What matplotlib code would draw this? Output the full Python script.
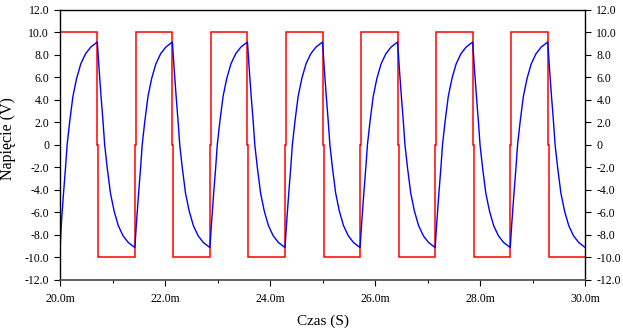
import matplotlib
matplotlib.use("Agg")
import matplotlib.pyplot as plt
from matplotlib.ticker import FixedLocator

# ---- data (time in ms, voltage in V) ----
red_t = [20.0,
         20.705, 20.705, 20.724, 20.724,
         21.42, 21.42, 21.439, 21.439,
         22.135, 22.135, 22.154, 22.154,
         22.85, 22.85, 22.869, 22.869,
         23.565, 23.565, 23.584, 23.584,
         24.28, 24.28, 24.299, 24.299,
         24.995, 24.995, 25.014, 25.014,
         25.71, 25.71, 25.729, 25.729,
         26.425, 26.425, 26.444, 26.444,
         27.14, 27.14, 27.159, 27.159,
         27.855, 27.855, 27.874, 27.874,
         28.57, 28.57, 28.589, 28.589,
         29.285, 29.285, 29.304, 29.304,
         30.0]
red_v = [10,
         10, 0, 0, -10,
         -10, 0, 0, 10,
         10, 0, 0, -10,
         -10, 0, 0, 10,
         10, 0, 0, -10,
         -10, 0, 0, 10,
         10, 0, 0, -10,
         -10, 0, 0, 10,
         10, 0, 0, -10,
         -10, 0, 0, 10,
         10, 0, 0, -10,
         -10, 0, 0, 10,
         10, 0, 0, -10,
         -10]

blue_t = [20.0, 20.02, 20.06, 20.10, 20.13, 20.18, 20.24, 20.31, 20.39, 20.48, 20.58,
          20.705, 20.735, 20.775, 20.815, 20.845, 20.895, 20.955, 21.025, 21.105, 21.195, 21.295,
          21.42, 21.45, 21.49, 21.53, 21.56, 21.61, 21.67, 21.74, 21.82, 21.91, 22.01,
          22.135, 22.165, 22.205, 22.245, 22.275, 22.325, 22.385, 22.455, 22.535, 22.625, 22.725,
          22.85, 22.88, 22.92, 22.96, 22.99, 23.04, 23.10, 23.17, 23.25, 23.34, 23.44,
          23.565, 23.595, 23.635, 23.675, 23.705, 23.755, 23.815, 23.885, 23.965, 24.055, 24.155,
          24.28, 24.31, 24.35, 24.39, 24.42, 24.47, 24.53, 24.60, 24.68, 24.77, 24.87,
          24.995, 25.025, 25.065, 25.105, 25.135, 25.185, 25.245, 25.315, 25.395, 25.485, 25.585,
          25.71, 25.74, 25.78, 25.82, 25.85, 25.90, 25.96, 26.03, 26.11, 26.20, 26.30,
          26.425, 26.455, 26.495, 26.535, 26.565, 26.615, 26.675, 26.745, 26.825, 26.915, 27.015,
          27.14, 27.17, 27.21, 27.25, 27.28, 27.33, 27.39, 27.46, 27.54, 27.63, 27.73,
          27.855, 27.885, 27.925, 27.965, 27.995, 28.045, 28.105, 28.175, 28.255, 28.345, 28.445,
          28.57, 28.60, 28.64, 28.68, 28.71, 28.76, 28.82, 28.89, 28.97, 29.06, 29.16,
          29.285, 29.315, 29.355, 29.395, 29.425, 29.475, 29.535, 29.605, 29.685, 29.775, 29.875,
          30.0]
blue_v = [-8.9, -7.0, -4.4, -2.0, 0.0, 2.1, 4.3, 5.9, 7.2, 8.1, 8.7,
          9.15, 7.0, 4.4, 2.0, 0.0, -2.1, -4.3, -5.9, -7.2, -8.1, -8.7,
          -9.15, -7.0, -4.4, -2.0, 0.0, 2.1, 4.3, 5.9, 7.2, 8.1, 8.7,
          9.15, 7.0, 4.4, 2.0, 0.0, -2.1, -4.3, -5.9, -7.2, -8.1, -8.7,
          -9.15, -7.0, -4.4, -2.0, 0.0, 2.1, 4.3, 5.9, 7.2, 8.1, 8.7,
          9.15, 7.0, 4.4, 2.0, 0.0, -2.1, -4.3, -5.9, -7.2, -8.1, -8.7,
          -9.15, -7.0, -4.4, -2.0, 0.0, 2.1, 4.3, 5.9, 7.2, 8.1, 8.7,
          9.15, 7.0, 4.4, 2.0, 0.0, -2.1, -4.3, -5.9, -7.2, -8.1, -8.7,
          -9.15, -7.0, -4.4, -2.0, 0.0, 2.1, 4.3, 5.9, 7.2, 8.1, 8.7,
          9.15, 7.0, 4.4, 2.0, 0.0, -2.1, -4.3, -5.9, -7.2, -8.1, -8.7,
          -9.15, -7.0, -4.4, -2.0, 0.0, 2.1, 4.3, 5.9, 7.2, 8.1, 8.7,
          9.15, 7.0, 4.4, 2.0, 0.0, -2.1, -4.3, -5.9, -7.2, -8.1, -8.7,
          -9.15, -7.0, -4.4, -2.0, 0.0, 2.1, 4.3, 5.9, 7.2, 8.1, 8.7,
          9.15, 7.0, 4.4, 2.0, 0.0, -2.1, -4.3, -5.9, -7.2, -8.1, -8.7,
          -9.15]

x_ticks = [20, 22, 24, 26, 28, 30]
x_tick_labels = ["20.0m", "22.0m", "24.0m", "26.0m", "28.0m", "30.0m"]
x_minor = [21, 23, 25, 27, 29]
y_ticks = [12, 10, 8, 6, 4, 2, 0, -2, -4, -6, -8, -10, -12]
y_tick_labels = ["12.0", "10.0", "8.0", "6.0", "4.0", "2.0", "0",
                 "-2.0", "-4.0", "-6.0", "-8.0", "-10.0", "-12.0"]
x_label = "Czas (S)"
y_label = "Napięcie (V)"

plt.rcParams['font.family'] = ['Liberation Serif', 'DejaVu Serif']

W, H = 623, 330
fig = plt.figure(figsize=(W / 100, H / 100), dpi=100)
L, R, T, B = 60.3, 585.3, 10.0, 279.6
ax = fig.add_axes([L / W, 1 - B / H, (R - L) / W, (B - T) / H])

ax.plot(red_t, red_v, color="#ff0000", lw=1.1, solid_joinstyle="miter")
ax.plot(blue_t, blue_v, color="#0000ff", lw=1.0)

ax.set_xlim(20, 30)
ax.set_ylim(-12, 12)

ax.set_xticks(x_ticks)
ax.set_xticklabels(x_tick_labels)
ax.xaxis.set_minor_locator(FixedLocator(x_minor))
ax.set_yticks(y_ticks)
ax.set_yticklabels(y_tick_labels)

ax.tick_params(axis="y", which="major", direction="out", length=4, width=0.8,
               left=True, right=True, labelleft=True, labelright=True,
               labelsize=8.5, pad=4, colors="black")
ax.tick_params(axis="x", which="major", direction="out", length=4, width=0.8,
               top=False, bottom=True, labelsize=8.5, pad=6)
ax.tick_params(axis="x", which="minor", direction="out", length=2, width=0.8,
               top=False, bottom=True)

for s in ["left", "right", "top"]:
    ax.spines[s].set_color("black")
    ax.spines[s].set_linewidth(1.0)
ax.spines["bottom"].set_color("#555555")
ax.spines["bottom"].set_linewidth(1.3)

fig.text(322.8 / W, 1 - 321.7 / H, x_label, ha="center", va="center", fontsize=11)
fig.text(8.0 / W, 1 - 139.0 / H, y_label, ha="center", va="center",
         rotation=90, fontsize=11.5)

fig.savefig("out.png", dpi=100)
